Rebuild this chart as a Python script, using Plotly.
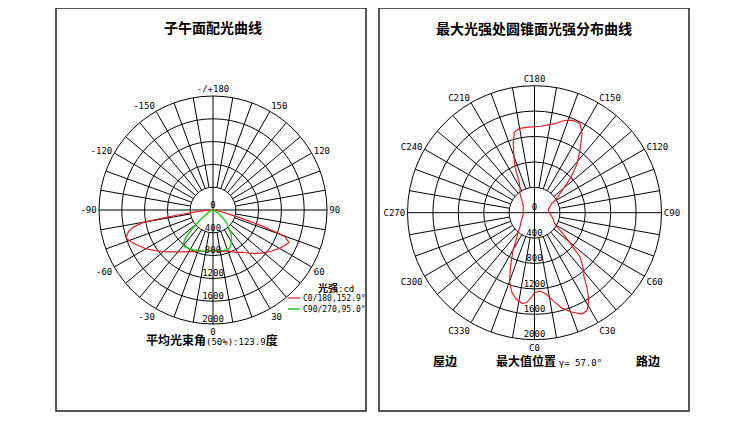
import plotly.graph_objects as go

# ---- data ----
# meridian plane C0/180: positive gamma = C0 side, negative = C180 side
c0180_gamma = [-90, -87, -84, -82, -80, -78, -76, -74, -72, -70, -67, -64, -60, -55, -50,
               -45, -40, -35, -30, -25, -20, -15, -10, -5, 0, 5, 10, 15, 20, 25, 30, 35,
               40, 45, 50, 55, 60, 64, 67, 70, 72, 74, 77, 80, 85, 90]
c0180_cd = [0, 120, 276, 630, 1230, 1420, 1520, 1570, 1595, 1565, 1500, 1440, 1360, 1245, 1140,
            1040, 960, 895, 845, 805, 775, 750, 735, 722, 713, 722, 738, 752, 765, 810, 860, 905,
            990, 1075, 1170, 1255, 1345, 1410, 1450, 1330, 900, 500, 200, 80, 30, 0]

# plane C90/270: positive gamma = C90, negative = C270
c90270_gamma = [-90, -75, -65, -58, -53, -50, -47, -44, -41, -38, -33, -25, -15, -5, 0,
                5, 10, 15, 20, 23, 27, 30, 35, 40, 45, 50, 55, 60, 70, 90]
c90270_cd = [0, 10, 60, 150, 240, 370, 540, 700, 810, 815, 800, 775, 750, 720, 700,
             712, 722, 732, 740, 735, 690, 640, 570, 450, 360, 250, 160, 90, 20, 0]

# cone at gamma = 57 deg, intensity vs C angle
cone_c = [0, 4, 8, 12, 16, 20, 25, 28, 30, 32, 35, 38, 40, 43, 46, 49, 52, 55, 58, 62, 66,
          70, 75, 80, 85, 90, 95, 100, 105, 110, 115, 118, 122, 127, 130, 133, 136, 139, 144,
          149, 153, 157, 160, 163, 167, 172, 176, 180, 185, 190, 194, 197, 200, 203, 207, 212,
          217, 225, 235, 245, 255, 270, 280, 288, 300, 314, 320, 326, 330, 336, 340, 344, 348,
          352, 355, 358, 360]
cone_cd = [1260, 1240, 1290, 1420, 1560, 1660, 1760, 1750, 1690, 1610, 1440, 1260, 1210, 1100,
           990, 760, 620, 500, 413, 360, 330, 318, 290, 270, 250, 235, 225, 222, 230, 255, 285,
           307, 400, 504, 600, 740, 880, 1022, 1220, 1454, 1578, 1575, 1550, 1510, 1440, 1394,
           1365, 1355, 1350, 1348, 1310, 1142, 950, 787, 520, 430, 381, 284, 220, 195, 185, 176,
           185, 197, 240, 318, 400, 520, 676, 929, 1150, 1300, 1390, 1440, 1420, 1330, 1260]

ring_cd = [0, 400, 800, 1200, 1600, 2000]
angle_ticks = list(range(0, 360, 30))
left_ticktext = ["0", "30", "60", "90", "120", "150", "-/+180", "-150", "-120", "-90", "-60", "-30"]
right_ticktext = ["C" + str(a) for a in angle_ticks]

# the page body has an 8px margin, so the figure is made smaller and positions shifted
OFF = 8
W, H = 751 - OFF, 429 - OFF
MONO = "DejaVu Sans Mono"
CJK = "Noto Sans CJK SC"


def px(x):
    return (x - OFF) / W


def py(y):
    return 1 - (y - OFF) / H


def spokes(subplot):
    # radial lines every 10 deg, starting at the first ring; main axes go through the centre
    r, t = [], []
    for a in range(0, 360, 10):
        r += [0 if a % 90 == 0 else 400, 2000, None]
        t += [a, a, None]
    return go.Scatterpolar(r=r, theta=t, mode="lines", subplot=subplot,
                           line=dict(color="black", width=1), hoverinfo="skip", showlegend=False)


def ring_labels(subplot):
    return go.Scatterpolar(r=ring_cd, theta=[0] * len(ring_cd), mode="text", subplot=subplot,
                           text=[str(v) for v in ring_cd], textposition="top center",
                           textfont=dict(family=MONO, size=9, color="black"),
                           hoverinfo="skip", showlegend=False)


fig = go.Figure()

fig.add_trace(spokes("polar"))
fig.add_trace(go.Scatterpolar(r=c0180_cd, theta=c0180_gamma, mode="lines", subplot="polar",
                              line=dict(color="#e02020", width=1.2), showlegend=False))
fig.add_trace(go.Scatterpolar(r=c90270_cd, theta=c90270_gamma, mode="lines", subplot="polar",
                              line=dict(color="#22cc22", width=1.5), showlegend=False))
fig.add_trace(ring_labels("polar"))

fig.add_trace(spokes("polar2"))
fig.add_trace(go.Scatterpolar(r=cone_cd, theta=cone_c, mode="lines", subplot="polar2",
                              line=dict(color="#e02020", width=1.2), showlegend=False))
fig.add_trace(ring_labels("polar2"))


def polar_layout(cx, cy, rad, ticktext):
    return dict(
        domain=dict(x=[px(cx - rad), px(cx + rad)], y=[py(cy + rad), py(cy - rad)]),
        bgcolor="white",
        radialaxis=dict(range=[0, 2000], tickvals=[400, 800, 1200, 1600, 2000],
                        showticklabels=False, ticks="", showline=False,
                        showgrid=True, gridcolor="black", gridwidth=1),
        angularaxis=dict(rotation=270, direction="counterclockwise",
                         tickmode="array", tickvals=angle_ticks, ticktext=ticktext,
                         ticks="", showgrid=False, showline=True, linecolor="black", linewidth=1,
                         tickfont=dict(family=MONO, size=9, color="black")),
    )


fig.update_layout(
    width=W, height=H,
    margin=dict(l=0, r=0, t=0, b=0),
    paper_bgcolor="white",
    showlegend=False,
    polar=polar_layout(213, 210, 114, left_ticktext),
    polar2=polar_layout(534.5, 212.7, 127, right_ticktext),
)

# panel frames
for x0, x1 in [(56, 366), (379, 689)]:
    fig.add_shape(type="rect", xref="paper", yref="paper",
                  x0=px(x0), x1=px(x1), y0=py(411), y1=py(8),
                  line=dict(color="#222222", width=1.5))

# legend samples
fig.add_shape(type="line", xref="paper", yref="paper", x0=px(288), x1=px(300),
              y0=py(298), y1=py(298), line=dict(color="#e02020", width=1.2))
fig.add_shape(type="line", xref="paper", yref="paper", x0=px(288), x1=px(300),
              y0=py(309), y1=py(309), line=dict(color="#22cc22", width=1.5))


def mono(s, size=9):
    return "<span style='font-family:%s;font-size:%dpx;font-weight:normal'>%s</span>" % (MONO, size, s)


notes = [
    (213, 27, "<b>子午面配光曲线</b>", "center", 14),
    (534, 28, "<b>最大光强处圆锥面光强分布曲线</b>", "center", 14),
    (212, 339, "<b>平均光束角</b>" + mono("(50%):123.9") + "<b>度</b>", "center", 12),
    (316, 287, "<b>光强</b>" + mono(":cd"), "left", 10),
    (301, 298, mono("C0/180,152.9°", 8), "left", 8),
    (301, 309, mono("C90/270,95.0°", 8), "left", 8),
    (445, 360, "<b>屋边</b>", "center", 12),
    (494, 360, "<b>最大值位置</b> " + mono("γ= 57.0°", 9), "left", 12),
    (648, 360, "<b>路边</b>", "center", 12),
]
for x, y, txt, anchor, size in notes:
    fig.add_annotation(x=px(x), y=py(y), xref="paper", yref="paper", text=txt,
                       xanchor=anchor, yanchor="middle", showarrow=False,
                       font=dict(family=CJK, size=size, color="black"))

fig.write_html("out.html")
